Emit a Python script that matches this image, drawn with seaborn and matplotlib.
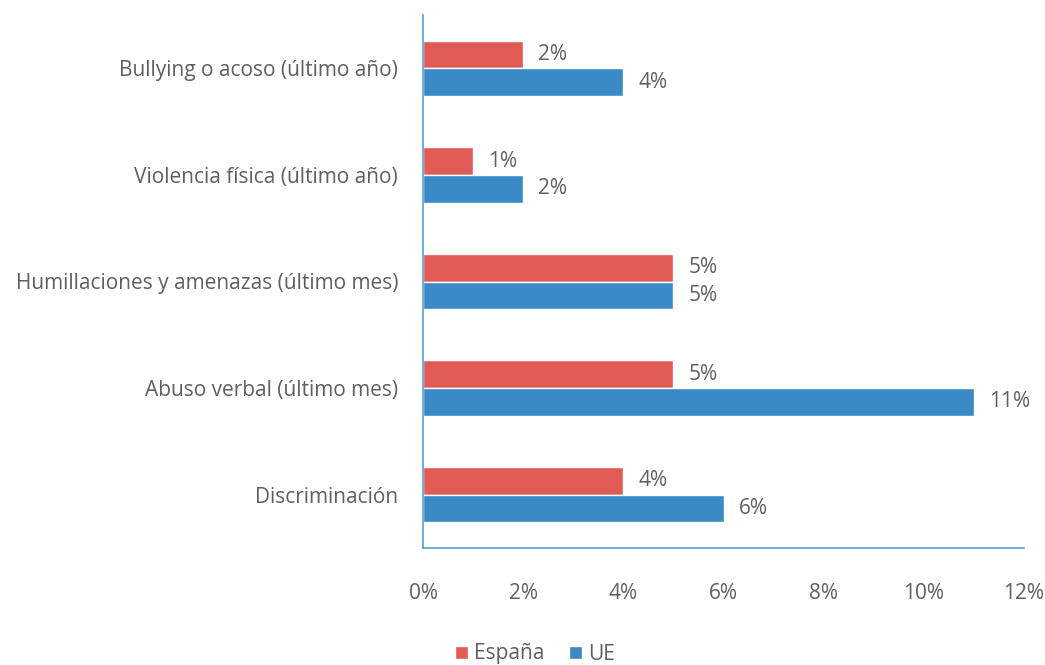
import matplotlib
matplotlib.use("Agg")
import matplotlib.pyplot as plt
import seaborn as sns
import pandas as pd

categories = [
    "Bullying o acoso (último año)",
    "Violencia física (último año)",
    "Humillaciones y amenazas (último mes)",
    "Abuso verbal (último mes)",
    "Discriminación",
]
espana = [2, 1, 5, 5, 4]
ue = [4, 2, 5, 11, 6]
series = ["España", "UE"]
xticks = [0, 2, 4, 6, 8, 10, 12]

df = pd.DataFrame({
    "categoria": categories * 2,
    "valor": espana + ue,
    "serie": [series[0]] * len(categories) + [series[1]] * len(categories),
})

sns.set_theme(style="white")
plt.rcParams["font.family"] = ["Open Sans", "DejaVu Sans"]

TEXT = "#5f5f5f"
FS = 15

fig = plt.figure(figsize=(10.45, 6.65), dpi=100)
ax = fig.add_axes([423 / 1045, 1 - 548 / 665, (1024 - 423) / 1045, (548 - 15) / 665])

palette = {"España": "#E05A56", "UE": "#3A8AC8"}
sns.barplot(data=df, x="valor", y="categoria", hue="serie", order=categories,
            hue_order=series, palette=palette, orient="h", width=0.52,
            gap=0, saturation=1, ax=ax, legend=True)

for cont in ax.containers:
    ax.bar_label(cont, labels=[f"{v:g}%" for v in cont.datavalues],
                 padding=11, fontsize=FS, color=TEXT)

ax.set_xlim(0, 12)
ax.set_xticks(xticks)
ax.set_xticklabels([f"{t}%" for t in xticks])
ax.set_xlabel("")
ax.set_ylabel("")
ax.tick_params(axis="x", length=0, pad=25, labelsize=FS, labelcolor=TEXT)
ax.tick_params(axis="y", length=0, pad=18, labelsize=FS, labelcolor=TEXT)

for s in ["top", "right"]:
    ax.spines[s].set_visible(False)
for s in ["left", "bottom"]:
    ax.spines[s].set_color("#5B9BD5")
    ax.spines[s].set_linewidth(1.2)

handles, labels = ax.get_legend_handles_labels()
ax.legend_.remove()
fig.legend(handles, labels, loc="center", bbox_to_anchor=(535 / 1045, 1 - 654 / 665),
           ncol=2, frameon=False, fontsize=FS, handlelength=0.6, handleheight=0.6,
           handletextpad=0.3, columnspacing=1.2, labelcolor=TEXT)

fig.savefig("out.png", dpi=100)
